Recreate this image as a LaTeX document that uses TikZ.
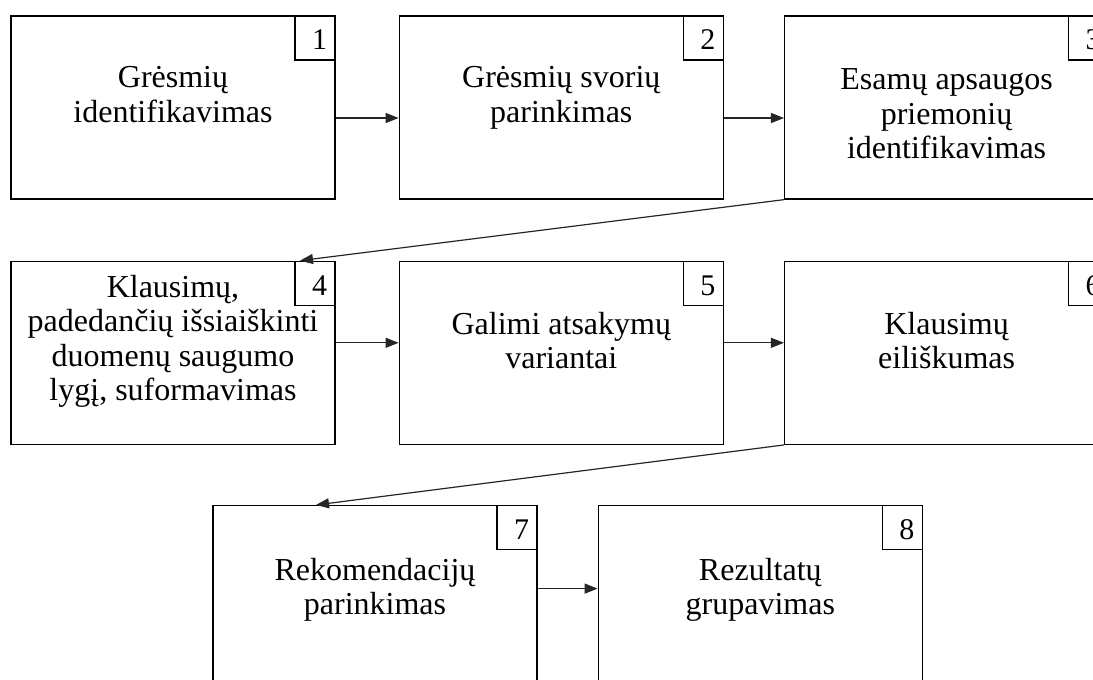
\documentclass[tikz,border=0pt]{standalone}
\usepackage{fontspec}
\setmainfont[Ligatures=CommonOff]{Liberation Serif}
\usetikzlibrary{positioning,arrows.meta}

\begin{document}
\begin{tikzpicture}[x=1pt,y=1pt,
    stage/.style = {draw, rectangle, line width=1.3pt, minimum width=324pt, minimum height=183pt, inner sep=0pt},
    txt/.style = {align=center, inner sep=0pt, font=\fontsize{32}{34.5}\selectfont},
    tag/.style = {draw, rectangle, line width=1.2pt, minimum width=40pt, minimum height=44pt,
                  text width=24pt, inner xsep=8pt, align=right, text height=24pt, text depth=0pt,
                  font=\fontsize{30}{32}\selectfont},
    flow/.style = {line width=1.2pt, black!85, -{Triangle[length=13pt,width=10pt]}}]
          \useasboundingbox (0,0) rectangle (1093,-680);
          \clip (0,0) rectangle (1093,-680);
          % the eight stages, three rows
          \node[stage] (1) at (173,-107.5) {};
          \node[stage] (2) [right=63pt of 1] {};
          \node[stage] (3) [right=60pt of 2] {};
          \node[stage] (4) [below=61pt of 1] {};
          \node[stage] (5) [right=63pt of 4] {};
          \node[stage] (6) [right=60pt of 5] {};
          \node[stage] (7) [below=60pt of 4, xshift=202pt] {};
          \node[stage] (8) [right=60pt of 7] {};
          % texts
          \node[txt] (1t) [below=51pt of 1.north] {Grėsmių\\identifikavimas};
          \node[txt] (2t) [below=51pt of 2.north] {Grėsmių svorių\\parinkimas};
          \node[txt] (3t) [below=53pt of 3.north] {Esamų apsaugos\\priemonių\\identifikavimas};
          \node[txt] (4t) [below=14pt of 4.north] {Klausimų,\\padedančių išsiaiškinti\\duomenų saugumo\\lygį, suformavimas};
          \node[txt] (5t) [below=51pt of 5.north] {Galimi atsakymų\\variantai};
          \node[txt] (6t) [below=51pt of 6.north] {Klausimų\\eiliškumas};
          \node[txt] (7t) [below=53pt of 7.north] {Rekomendacijų\\parinkimas};
          \node[txt] (8t) [below=53pt of 8.north] {Rezultatų\\grupavimas};
          % numbers in the corners
          \foreach \n in {1,...,8}
            \node[tag, anchor=north east] (\n n) at (\n.north east) {\n};
          % arrows
          \draw[flow] ([yshift=-10.5pt]1.east) -- ([yshift=-10.5pt]2.west);
          \draw[flow] ([yshift=-10.5pt]2.east) -- ([yshift=-10.5pt]3.west);
          \draw[flow] (3.south west) -- ([xshift=127pt]4.north);
          \draw[flow] ([yshift=10pt]4.east) -- ([yshift=10pt]5.west);
          \draw[flow] ([yshift=10pt]5.east) -- ([yshift=10pt]6.west);
          \draw[flow] (6.south west) -- ([xshift=-59pt]7.north);
          \draw[flow] ([yshift=8.5pt]7.east) -- ([yshift=8.5pt]8.west);
        \end{tikzpicture}
\end{document}
